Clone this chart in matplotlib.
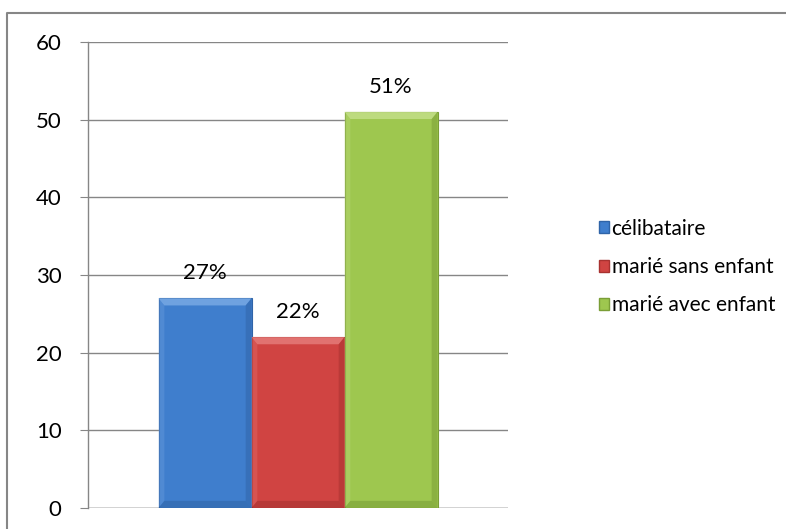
import matplotlib
matplotlib.use("Agg")
import matplotlib.pyplot as plt
from matplotlib.patches import Polygon, Rectangle
from matplotlib.lines import Line2D
import numpy as np

categories = ["célibataire", "marié sans enfant", "marié avec enfant"]
values = [27, 22, 51]
labels = ["27%", "22%", "51%"]
yticks = [0, 10, 20, 30, 40, 50, 60]

face = ["#3f7ecd", "#d04442", "#9ec74f"]
edge = ["#2f64a8", "#a83230", "#7a9e36"]
light = ["#78a9e4", "#e57b79", "#c3df88"]
dark = ["#2c5d9c", "#9a2c2b", "#6f9230"]

plt.rcParams["font.family"] = ["Lato", "DejaVu Sans"]

W, H = 786, 529
fig = plt.figure(figsize=(W / 100, H / 100), dpi=100)
ax = fig.add_axes([88 / W, 1 - 508 / H, 420 / W, 466 / H])

# chart frame: top and left edges
fig.add_artist(Line2D([7 / W, 7 / W, 1], [0, 1 - 13 / H, 1 - 13 / H],
                      transform=fig.transFigure, color="#868686",
                      linewidth=1.5))

width = 93 / 420
xs = [-width, 0, width]
bars = ax.bar(xs, values, width=width, color=face, edgecolor=edge,
              linewidth=0.8, zorder=3)

fig.canvas.draw()
inv = ax.transData.inverted()
bev = 8  # bevel size in pixels
for b, lc, dc in zip(bars, light, dark):
    x0, y0, w, h = b.get_x(), b.get_y(), b.get_width(), b.get_height()
    (px0, py0) = ax.transData.transform((x0, y0))
    (px1, py1) = ax.transData.transform((x0 + w, y0 + h))
    outer = [(px0, py0), (px1, py0), (px1, py1), (px0, py1)]
    inner = [(px0 + bev, py0 + bev), (px1 - bev, py0 + bev),
             (px1 - bev, py1 - bev), (px0 + bev, py1 - bev)]
    sides = [
        ([outer[3], outer[2], inner[2], inner[3]], lc, 0.85),  # top
        ([outer[0], outer[3], inner[3], inner[0]], lc, 0.30),  # left
        ([outer[1], outer[2], inner[2], inner[1]], dc, 0.40),  # right
        ([outer[0], outer[1], inner[1], inner[0]], dc, 0.45),  # bottom
    ]
    for pts, c, a in sides:
        data_pts = inv.transform(np.array(pts))
        ax.add_patch(Polygon(data_pts, closed=True, facecolor=c,
                             edgecolor="none", alpha=a, zorder=4))

for x, v, t in zip(xs, values, labels):
    ax.annotate(t, (x, v), xytext=(0, 11), textcoords="offset points",
                ha="center", va="bottom", fontsize=16, color="black")

ax.set_xlim(-0.5, 0.5)
ax.set_ylim(0, 60)
ax.set_yticks(yticks)
ax.set_xticks([])
ax.yaxis.grid(True, color="#868686", linewidth=1.0, zorder=0)
ax.set_axisbelow(True)
for s in ["top", "right", "bottom"]:
    ax.spines[s].set_visible(False)
ax.spines["left"].set_color("#868686")
ax.spines["left"].set_linewidth(1.0)
ax.tick_params(axis="y", length=6, color="#868686", labelsize=16, pad=13)
ax.axhline(0, color="#868686", linewidth=1.0, zorder=2)

handles = [Rectangle((0, 0), 1, 1, facecolor=f, edgecolor=e)
           for f, e in zip(face, edge)]
fig.legend(handles, categories, loc="center left",
           bbox_to_anchor=(599 / W, 1 - 267 / H), frameon=False,
           borderpad=0, borderaxespad=0,
           fontsize=15, handlelength=0.5, handleheight=0.5,
           handletextpad=0.1, labelspacing=0.88)

fig.savefig("out.png", dpi=100)
